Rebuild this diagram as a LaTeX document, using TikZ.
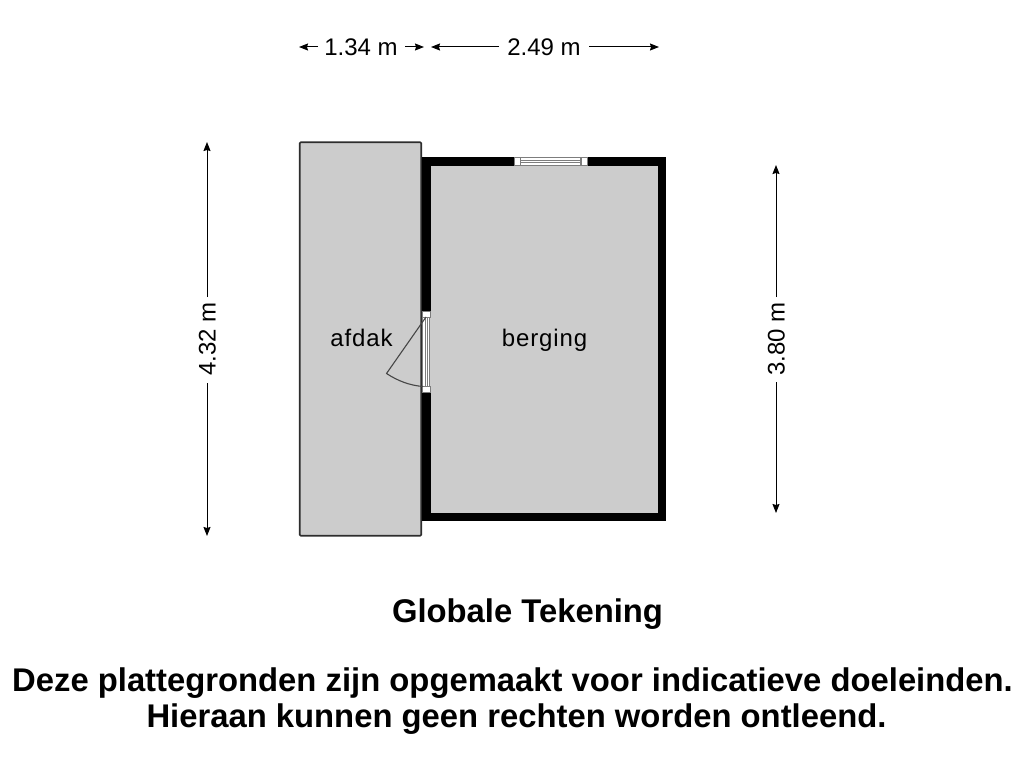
\documentclass[tikz,border=0pt]{standalone}
\usepackage{fontspec}
\setmainfont{Liberation Sans}
\newfontfamily\spaced[LetterSpace=3.6]{Liberation Sans}
\usetikzlibrary{arrows.meta}
\tikzset{
  px/.style={x=1pt,y=-1pt},
  room/.style={fill=floorgrey,draw=none},
  shed/.style={fill=floorgrey,draw=shededge,line width=1.7pt,line join=round,rounded corners=1pt},
  wall/.style={fill=black,draw=none},
  pane/.style={fill=white,draw=none},
  frameline/.style={draw=framegrey,line width=0.8pt},
  dimline/.style={draw=black,line width=1pt,-{Stealth[length=9pt,width=7pt,inset=1pt]}},
  dimlabel/.style={font=\fontsize{24}{28}\selectfont,text=black,inner sep=0pt,anchor=base},
  roomlabel/.style={font=\spaced\fontsize{24}{28}\selectfont,text=black,inner sep=0pt,anchor=base},
  footer/.style={font=\bfseries\fontsize{32.8}{38}\selectfont,text=black,inner sep=0pt,anchor=base},
  leaf/.style={draw=leafgrey,line width=1.1pt,line join=round}
}
\definecolor{floorgrey}{RGB}{204,204,204}
\definecolor{shededge}{RGB}{45,45,45}
\definecolor{framegrey}{RGB}{125,125,125}
\definecolor{leafgrey}{RGB}{70,70,70}
\begin{document}
\begin{tikzpicture}[px]
\useasboundingbox[fill=white] (0,0) rectangle (1024,768);
% afdak
\draw[shed] (299.7,142.3) rectangle (421.3,535.7);
% berging walls
\fill[wall] (422,157) rectangle (666,521);
\fill[room] (431,165.5) rectangle (658,513);
% door opening
\fill[room] (422,311) rectangle (431,392);
\fill[pane] (422,317) rectangle (429.5,386.5);
\foreach \x in {422.7,425,427.3,429.5}{\draw[frameline] (\x,317) -- (\x,386.5);}
\fill[pane] (422,311) rectangle (430,317);
\fill[pane] (422,386.5) rectangle (430,392);
\draw[frameline,line width=.5pt] (422.2,311) rectangle (430,317);
\draw[frameline,line width=.5pt] (422.2,386.5) rectangle (430,392);
% door leaf
\coordinate (hinge) at (426,317);
\coordinate (swing) at (386.5,373.5);
\coordinate (jamb) at (423,386.5);
\draw[leaf] (hinge) -- (swing) .. controls (398,381) and (410,385.5) .. (jamb);
% window
\fill[pane] (514.5,157) rectangle (587,165.5);
\draw[frameline,line width=.5pt] (514.7,157.2) rectangle (520.5,165.3);
\draw[frameline,line width=.5pt] (581,157.2) rectangle (586.8,165.3);
\foreach \y in {157.4,160.2,162.8,165.2}{\draw[frameline] (520.5,\y) -- (581,\y);}
\draw[frameline,line width=.8pt] (520.8,157) -- (520.8,165.5);
\draw[frameline,line width=.8pt] (580.8,157) -- (580.8,165.5);
% labels
\node[roomlabel] (afdak) at (361.5,346.5) {afdak};
\node[roomlabel] (berging) at (544.5,346.5) {berging};
% dimensions
\node[dimlabel] (d134) at (361,56) {1.34 m};
\node[dimlabel] (d249) at (544,56) {2.49 m};
\node[dimlabel,rotate=90] (d432) at (215.5,339) {4.32 m};
\node[dimlabel,rotate=90] (d380) at (784.5,339) {3.80 m};
\coordinate (a1) at (299,47);
\coordinate (a2) at (424,47);
\coordinate (b1) at (431,47);
\coordinate (b2) at (659,47);
\coordinate (c1) at (207,142);
\coordinate (c2) at (207,536);
\coordinate (e1) at (776,165);
\coordinate (e2) at (776,513);
\draw[dimline] (318,47) -- (a1);
\draw[dimline] (405,47) -- (a2);
\draw[dimline] (499,47) -- (b1);
\draw[dimline] (589,47) -- (b2);
\draw[dimline] (207,297) -- (c1);
\draw[dimline] (207,383) -- (c2);
\draw[dimline] (776,297) -- (e1);
\draw[dimline] (776,382) -- (e2);
% footer
\node[footer] (title) at (527.5,622.5) {Globale Tekening};
\node[footer] (note1) at (512.5,691) {Deze plattegronden zijn opgemaakt voor indicatieve doeleinden.};
\node[footer] (note2) at (516.5,727.5) {Hieraan kunnen geen rechten worden ontleend.};
\end{tikzpicture}
\end{document}
